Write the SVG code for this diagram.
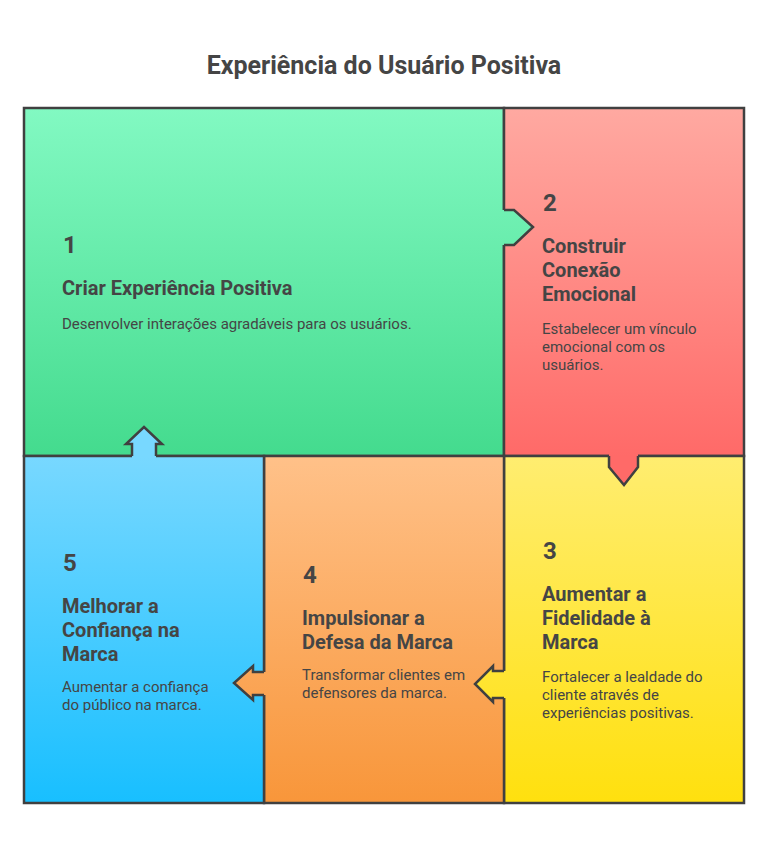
<svg xmlns="http://www.w3.org/2000/svg" width="768" height="852" viewBox="0 0 768 852">
<style>
  .t{font-family:Roboto,"Liberation Sans",sans-serif;fill:#454545}
  .title{font-size:25px;font-weight:bold}
  .num{font-size:24px;font-weight:bold}
  .head{font-size:20px;font-weight:bold}
  .desc{font-size:15px}
  .panel{stroke:#404040;stroke-width:2.5}
  .ol{fill:none;stroke:#404040;stroke-width:2.5;stroke-linejoin:miter}
</style>
<defs>
  <linearGradient id="g1" gradientUnits="userSpaceOnUse" x1="0" y1="108" x2="0" y2="456"><stop offset="0" stop-color="#82F9C2"/><stop offset="1" stop-color="#44DB8E"/></linearGradient>
  <linearGradient id="g2" gradientUnits="userSpaceOnUse" x1="0" y1="108" x2="0" y2="456"><stop offset="0" stop-color="#FFA9A1"/><stop offset="1" stop-color="#FF6A68"/></linearGradient>
  <linearGradient id="g3" gradientUnits="userSpaceOnUse" x1="0" y1="456" x2="0" y2="803"><stop offset="0" stop-color="#FFED70"/><stop offset="1" stop-color="#FFE00E"/></linearGradient>
  <linearGradient id="g4" gradientUnits="userSpaceOnUse" x1="0" y1="456" x2="0" y2="803"><stop offset="0" stop-color="#FFC189"/><stop offset="1" stop-color="#F8963A"/></linearGradient>
  <linearGradient id="g5" gradientUnits="userSpaceOnUse" x1="0" y1="456" x2="0" y2="803"><stop offset="0" stop-color="#78D8FF"/><stop offset="1" stop-color="#18BFFF"/></linearGradient>
</defs>
<rect width="768" height="852" fill="#ffffff"/>
<text class="t title" x="384" y="74" text-anchor="middle">Experiência do Usuário Positiva</text>

<g id="node1">
  <rect class="panel" x="24" y="108" width="480" height="348" fill="url(#g1)"/>
  <text class="t num" x="63" y="253">1</text>
  <text class="t head" x="62" y="295">Criar Experiência Positiva</text>
  <text class="t desc" x="62" y="329">Desenvolver interações agradáveis para os usuários.</text>
</g>
<g id="node2">
  <rect class="panel" x="504" y="108" width="240" height="348" fill="url(#g2)"/>
  <text class="t num" x="543" y="211">2</text>
  <text class="t head" x="542" y="253">Construir</text>
  <text class="t head" x="542" y="277">Conexão</text>
  <text class="t head" x="542" y="301">Emocional</text>
  <text class="t desc" x="542" y="334">Estabelecer um vínculo</text>
  <text class="t desc" x="542" y="352">emocional com os</text>
  <text class="t desc" x="542" y="370">usuários.</text>
</g>
<g id="node3">
  <rect class="panel" x="504" y="456" width="240" height="347" fill="url(#g3)"/>
  <text class="t num" x="543" y="559">3</text>
  <text class="t head" x="542" y="601">Aumentar a</text>
  <text class="t head" x="542" y="625">Fidelidade à</text>
  <text class="t head" x="542" y="649">Marca</text>
  <text class="t desc" x="542" y="682">Fortalecer a lealdade do</text>
  <text class="t desc" x="542" y="700">cliente através de</text>
  <text class="t desc" x="542" y="718">experiências positivas.</text>
</g>
<g id="node4">
  <rect class="panel" x="264" y="456" width="240" height="347" fill="url(#g4)"/>
  <text class="t num" x="303" y="583">4</text>
  <text class="t head" x="302" y="625">Impulsionar a</text>
  <text class="t head" x="302" y="649">Defesa da Marca</text>
  <text class="t desc" x="302" y="680">Transformar clientes em</text>
  <text class="t desc" x="302" y="698">defensores da marca.</text>
</g>
<g id="node5">
  <rect class="panel" x="24" y="456" width="240" height="347" fill="url(#g5)"/>
  <text class="t num" x="63" y="571">5</text>
  <text class="t head" x="62" y="613">Melhorar a</text>
  <text class="t head" x="62" y="637">Confiança na</text>
  <text class="t head" x="62" y="661">Marca</text>
  <text class="t desc" x="62" y="692">Aumentar a confiança</text>
  <text class="t desc" x="62" y="710">do público na marca.</text>
</g>

<g id="connectors">
  <!-- 1 -> 2 -->
  <polygon points="500,210 514,210 533,227 514,245 500,245" fill="url(#g1)"/>
  <polyline class="ol" points="504,210 514,210 533,227 514,245 504,245"/>
  <!-- 2 -> 3 -->
  <polygon points="609,452 609,467 624,485 638,467 638,452" fill="url(#g2)"/>
  <polyline class="ol" points="609,456 609,467 624,485 638,467 638,456"/>
  <!-- 3 -> 4 -->
  <polygon points="508,671 493,671 493,666 475,684 493,702 493,698 508,698" fill="url(#g3)"/>
  <polyline class="ol" points="504,671 493,671 493,666 475,684 493,702 493,698 504,698"/>
  <!-- 4 -> 5 -->
  <polygon points="268,672 253,672 253,666 234,683 253,700 253,695 268,695" fill="url(#g4)"/>
  <polyline class="ol" points="264,672 253,672 253,666 234,683 253,700 253,695 264,695"/>
  <!-- 5 -> 1 -->
  <polygon points="132,460 132,444 126,444 144,427 162,444 156,444 156,460" fill="url(#g5)"/>
  <polyline class="ol" points="132,456 132,444 126,444 144,427 162,444 156,444 156,456"/>
</g>
</svg>
